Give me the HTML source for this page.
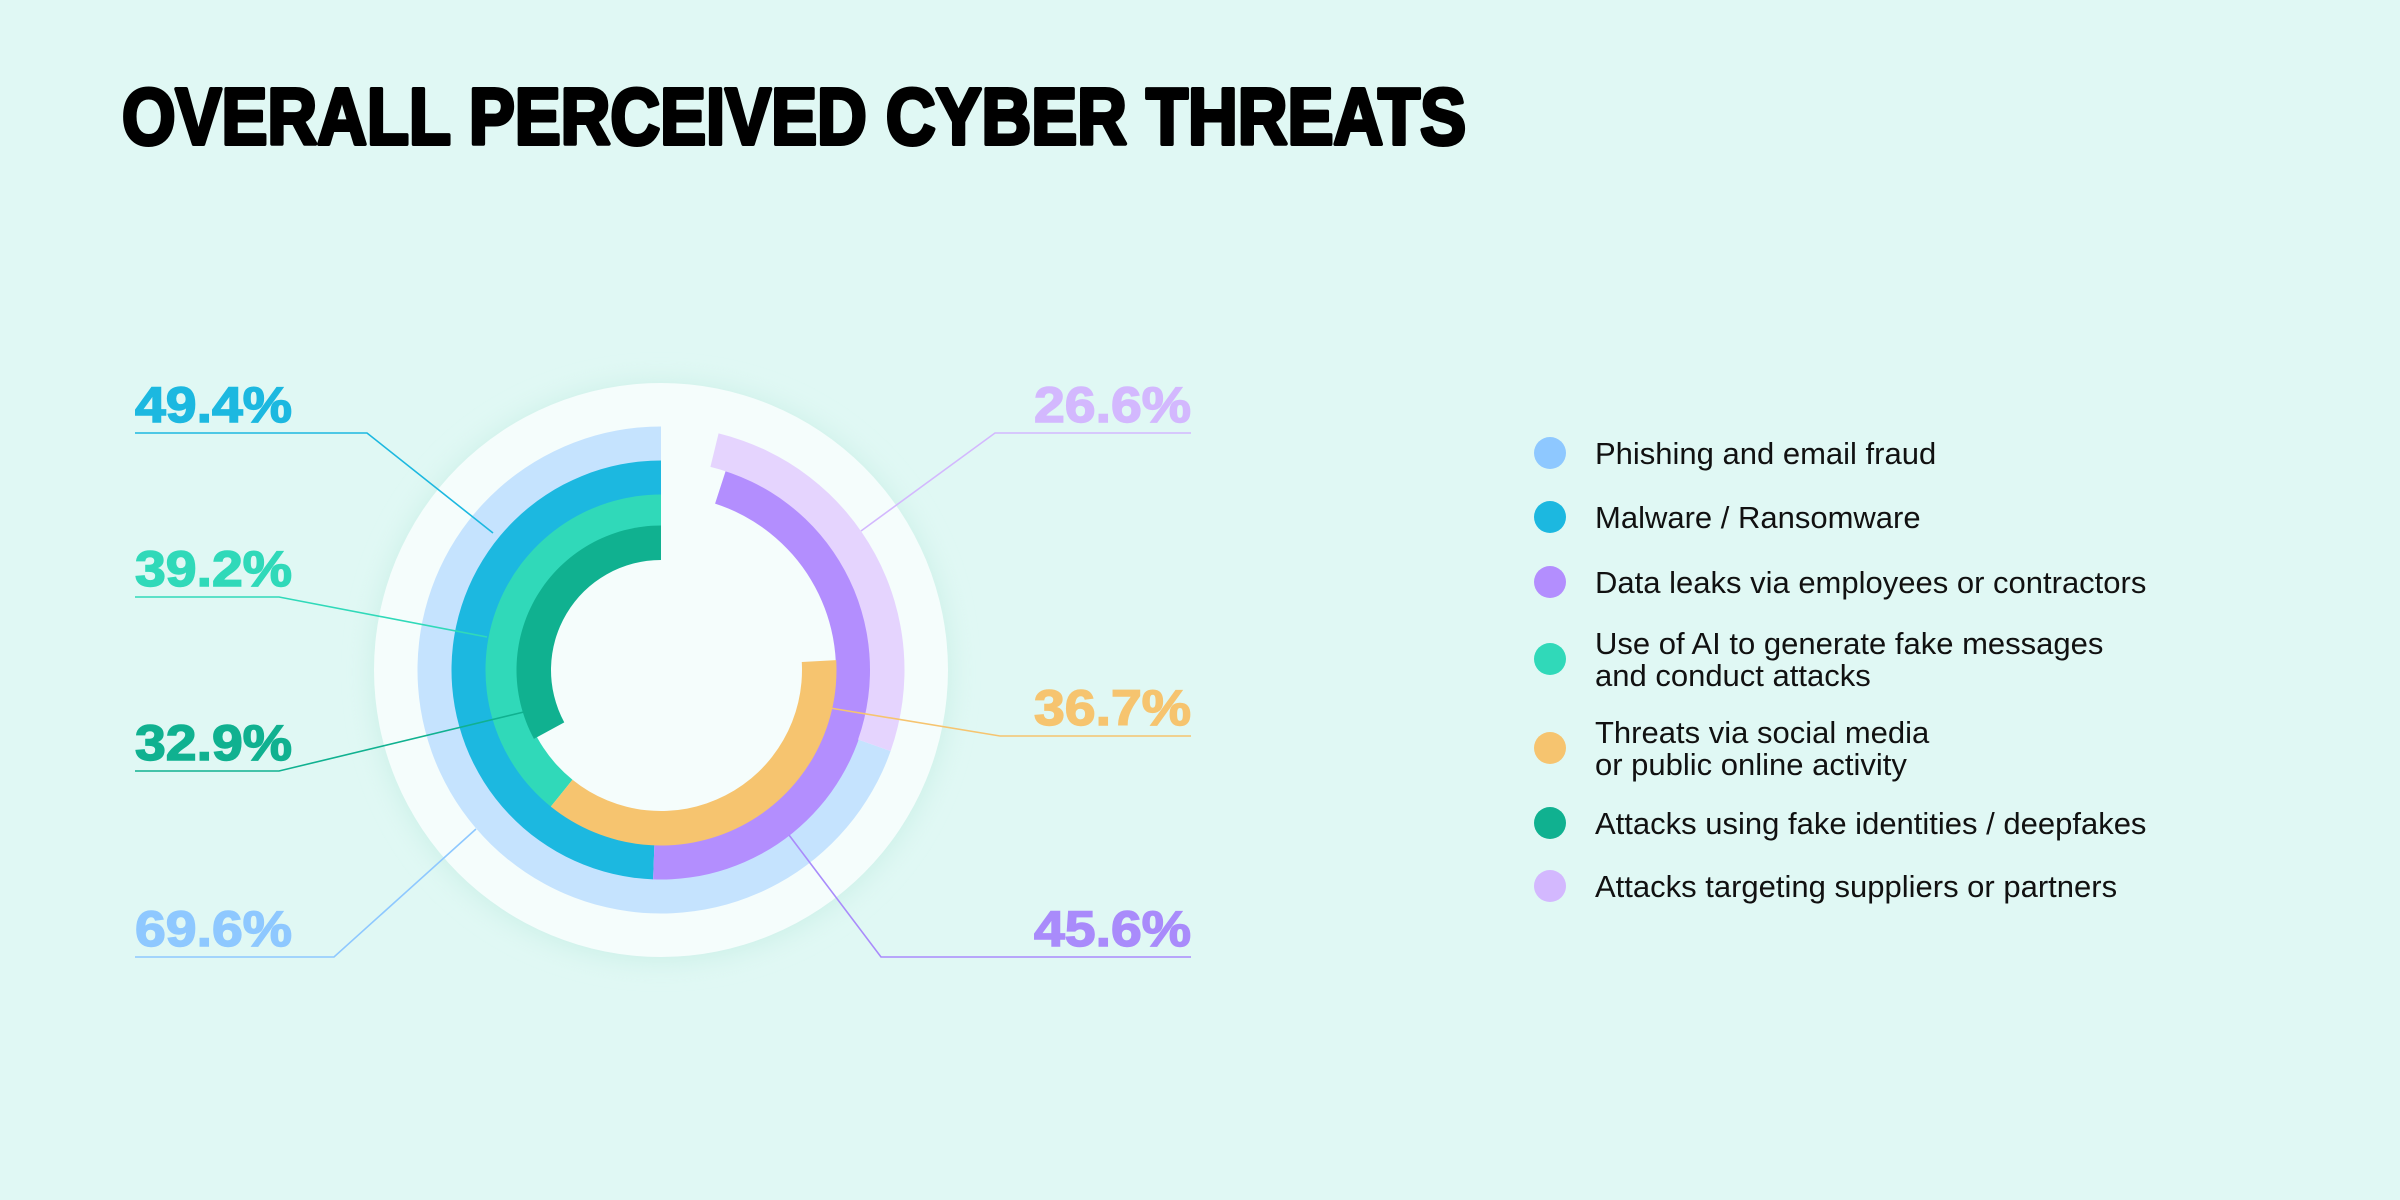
<!DOCTYPE html>
<html><head><meta charset="utf-8"><style>
html,body{margin:0;padding:0;background:#e0f8f4;}
svg{display:block;}
</style></head><body>
<svg id="chart" width="2400" height="1200" viewBox="0 0 2400 1200" xmlns="http://www.w3.org/2000/svg">
<defs>
<filter id="sh" x="-20%" y="-20%" width="140%" height="140%"><feGaussianBlur stdDeviation="14"/></filter>
</defs>
<rect x="0" y="0" width="2400" height="1200" fill="#e0f8f4"/>
<text x="122" y="144" font-family="Liberation Sans, sans-serif" font-weight="bold" font-size="80" textLength="1344" lengthAdjust="spacingAndGlyphs" fill="#000" stroke="#000" stroke-width="4" stroke-linejoin="round">OVERALL PERCEIVED CYBER THREATS</text>
<circle cx="661" cy="672" r="287" fill="#c9efe6" filter="url(#sh)"/>
<circle cx="661" cy="670" r="287" fill="#f5fdfc"/>
<g id="arcs"></g>
<g id="leaders"></g>
<g id="labels"></g>
<g id="legend"></g>
</svg>
<script>
const categories = ["Phishing and email fraud","Malware / Ransomware","Data leaks via employees or contractors","Use of AI to generate fake messages|and conduct attacks","Threats via social media|or public online activity","Attacks using fake identities / deepfakes","Attacks targeting suppliers or partners"];
const values = [69.6, 49.4, 45.6, 39.2, 36.7, 32.9, 26.6];
const valueLabels = ["69.6%","49.4%","45.6%","39.2%","36.7%","32.9%","26.6%"];
const ringOf = [0, 1, 1, 2, 2, 3, 0];
const colors = ["#c5e3fe","#1cb8e0","#b38efe","#30d9b9","#f6c46f","#10b190","#e5d4fe"];
const legendColors = ["#8ec8ff","#1cb8e0","#b38efe","#30d9b9","#f6c46f","#10b190","#d3b8fe"];
const labelColors = ["#8ec8ff","#1cb8e0","#a98bfb","#30d9b9","#f6c46f","#10b190","#d3b8fe"];

const NS = "http://www.w3.org/2000/svg";
const cx = 661, cy = 670;
const ringInner = [209, 175, 141, 110], ringW = 34.5;
function pt(r, f){ const a = 2*Math.PI*f/100; return [cx - r*Math.sin(a), cy - r*Math.cos(a)]; }
function arcPath(r0, r1, f0, f1){
  const large = (f1 - f0) > 50 ? 1 : 0;
  const a = pt(r1, f0), b = pt(r1, f1), c = pt(r0, f1), d = pt(r0, f0);
  return `M${a[0]},${a[1]} A${r1},${r1} 0 ${large} 0 ${b[0]},${b[1]} L${c[0]},${c[1]} A${r0},${r0} 0 ${large} 1 ${d[0]},${d[1]} Z`;
}
const arcsG = document.getElementById('arcs');
const cum = [0,0,0,0];
values.forEach((v,i)=>{
  const ring = ringOf[i];
  const f0 = cum[ring], f1 = cum[ring] + v;
  cum[ring] = f1;
  const r0 = ringInner[ring], r1 = r0 + ringW;
  const p = document.createElementNS(NS,'path');
  p.setAttribute('d', arcPath(r0, r1, f0, f1));
  p.setAttribute('fill', colors[i]);
  
  
  arcsG.appendChild(p);
});

// label layout (positions only)
const labelPos = {
  1:{x:135,y:422,side:'L',ly:433,lx:367,ex:493,ey:533},
  3:{x:135,y:586,side:'L',ly:597,lx:279,ex:487,ey:637},
  5:{x:135,y:760,side:'L',ly:771,lx:279,ex:528,ey:711},
  0:{x:135,y:946,side:'L',ly:957,lx:334,ex:476,ey:829},
  6:{x:1191,y:422,side:'R',ly:433,lx:995,ex:861,ey:531},
  4:{x:1191,y:725,side:'R',ly:736,lx:1000,ex:830,ey:708},
  2:{x:1191,y:957,side:'R',ly:957,lx:881,ex:789,ey:835}};
const leadersG = document.getElementById('leaders'), labelsG = document.getElementById('labels');
Object.keys(labelPos).forEach(k=>{
  const i = +k, L = labelPos[k];
  const pl = document.createElementNS(NS,'polyline');
  const hx = L.side === 'L' ? 135 : 1191;
  pl.setAttribute('points', `${hx},${L.ly} ${L.lx},${L.ly} ${L.ex},${L.ey}`);
  pl.setAttribute('fill','none');
  pl.setAttribute('stroke', labelColors[i]);
  pl.setAttribute('stroke-width','1.6');
  
  
  leadersG.appendChild(pl);
  const t = document.createElementNS(NS,'text');
  t.setAttribute('x', L.side === 'L' ? L.x : L.x - 157);
  t.setAttribute('y', i === 2 ? 946 : L.y);
  t.setAttribute('font-family','Liberation Sans, sans-serif');
  t.setAttribute('font-weight','bold');
  t.setAttribute('font-size','50');
  t.setAttribute('textLength','157');
  t.setAttribute('lengthAdjust','spacingAndGlyphs');
  t.setAttribute('fill', labelColors[i]);
  t.setAttribute('stroke', labelColors[i]);
  t.setAttribute('stroke-width','1.5');
  t.textContent = valueLabels[i];
  
  
  labelsG.appendChild(t);
});

// legend
const legendOrder = [0,1,2,3,4,5,6];
const legendY = [453,517,582,659,748,823,886];
const legendG = document.getElementById('legend');
legendOrder.forEach((i,row)=>{
  const g = document.createElementNS(NS,'g');
  
  
  const c = document.createElementNS(NS,'circle');
  c.setAttribute('cx', 1550); c.setAttribute('cy', legendY[row]); c.setAttribute('r', 16);
  c.setAttribute('fill', legendColors[i]);
  
  
  g.appendChild(c);
  const lines = categories[i].split('|');
  lines.forEach((ln,j)=>{
    const t = document.createElementNS(NS,'text');
    const y0 = lines.length === 1 ? legendY[row] + 11 : legendY[row] - 5 + j*32;
    t.setAttribute('x', 1595); t.setAttribute('y', y0);
    t.setAttribute('font-family','Liberation Sans, sans-serif');
    t.setAttribute('font-size','31');
    t.setAttribute('fill','#111');
    t.textContent = ln;
    
    
    g.appendChild(t);
  });
  legendG.appendChild(g);
});
</script>
</body></html>
